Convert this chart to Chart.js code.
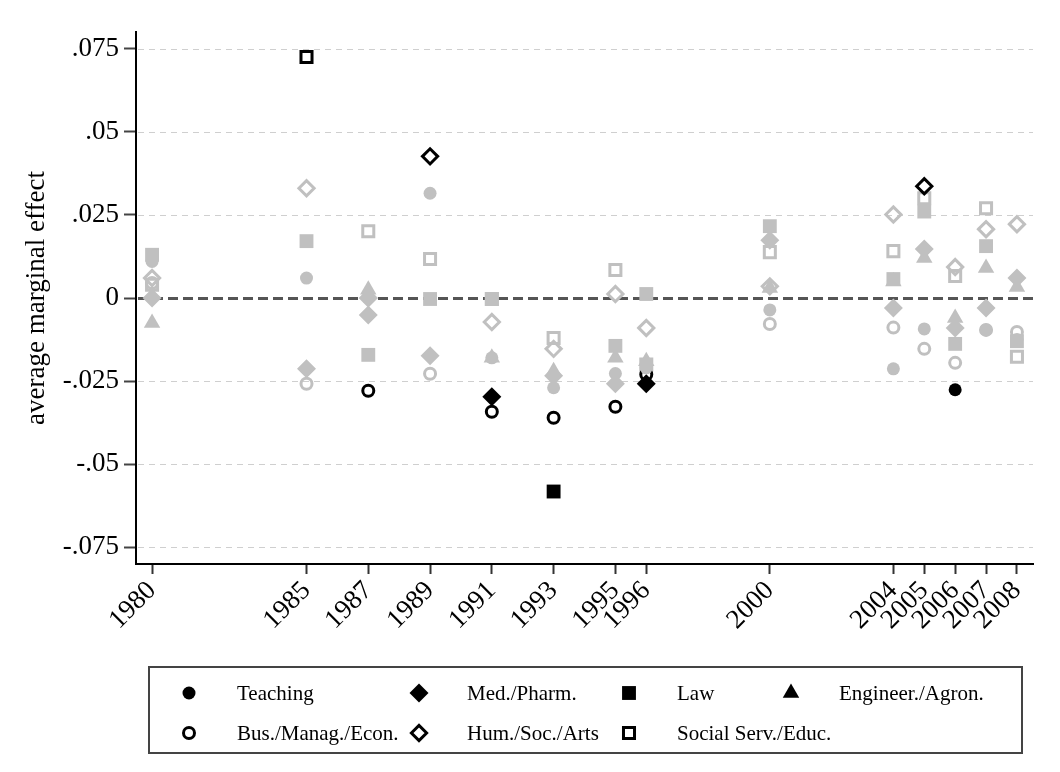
<!DOCTYPE html>
<html>
<head>
<meta charset="utf-8">
<script src="https://cdn.jsdelivr.net/npm/chart.js@4/dist/chart.umd.min.js"></script>
<style>
  body { margin: 0; background: #fff; }
  #wrap { position: relative; width: 1060px; height: 772px; }
  #legend {
    position: absolute; left: 148px; top: 666px; width: 871px; height: 84px;
    border: 2px solid #444; font-family: 'Liberation Serif', serif; font-size: 21px; color: #000;
  }
  .item { position: absolute; height: 24px; line-height: 24px; white-space: nowrap; }
  .item canvas { position: absolute; left: -24px; top: 0; }
</style>
</head>
<body>
<div id="wrap">
  <canvas id="grafico" width="1060" height="772"></canvas>
  <div id="legend"></div>
</div>
<script>
// Años de la encuesta (eje x)
const years = [1980, 1985, 1987, 1989, 1991, 1993, 1995, 1996, 2000, 2004, 2005, 2006, 2007, 2008]
const yearLabels = years.map(String)

// Ticks del eje y
const yTicks = [-0.075, -0.05, -0.025, 0, 0.025, 0.05, 0.075]
const yTickLabels = ['-.075', '-.05', '-.025', '0', '.025', '.05', '.075']

// Efectos marginales por área (null = no visible)
const teaching = [0.011, 0.006, 0.0, 0.0315, -0.018, -0.027, -0.0227, -0.021, -0.0036, -0.0213, -0.0093, -0.0276, -0.0096, -0.0125]
const medPharm = [0.0, -0.0213, -0.0051, -0.0174, -0.0297, -0.0234, -0.0258, -0.0258, 0.0174, -0.003, 0.0147, -0.009, -0.003, 0.006]
const law = [0.013, 0.0171, -0.0171, -0.0003, -0.0003, -0.0582, -0.0144, 0.0012, 0.0216, 0.0057, 0.026, -0.0138, 0.0156, -0.013]
const engineer = [-0.0075, null, 0.0025, null, -0.018, -0.022, -0.018, -0.019, 0.003, 0.005, 0.012, -0.006, 0.009, 0.0033]
const business = [0.0045, -0.0258, -0.0279, -0.0228, -0.0342, -0.036, -0.0327, -0.023, -0.0078, -0.0089, -0.0153, -0.0195, -0.0096, -0.0102]
const humanities = [0.006, 0.033, 0.0, 0.0426, -0.0072, -0.0153, 0.0012, -0.009, 0.0035, 0.0251, 0.0336, 0.0093, 0.0207, 0.0222]
const socialServ = [0.004, 0.0725, 0.0201, 0.0117, -0.0003, -0.012, 0.0084, -0.02, 0.0138, 0.0141, 0.03, 0.0066, 0.027, -0.0177]

// Significativos (1 = negro)
const sigTeaching = [0, 0, 0, 0, 0, 0, 0, 0, 0, 0, 0, 1, 0, 0]
const sigMedPharm = [0, 0, 0, 0, 1, 0, 0, 1, 0, 0, 0, 0, 0, 0]
const sigLaw = [0, 0, 0, 0, 0, 1, 0, 0, 0, 0, 0, 0, 0, 0]
const sigEngineer = [0, 0, 0, 0, 0, 0, 0, 0, 0, 0, 0, 0, 0, 0]
const sigBusiness = [0, 0, 1, 0, 1, 1, 1, 1, 0, 0, 0, 0, 0, 0]
const sigHumanities = [0, 0, 0, 1, 0, 0, 0, 0, 0, 0, 1, 0, 0, 0]
const sigSocialServ = [0, 1, 0, 0, 0, 0, 0, 0, 0, 0, 0, 0, 0, 0]

const GRIS = '#c0c0c0'
const NEGRO = '#000000'
const SERIF = "'Liberation Serif', 'Times New Roman', serif"

const series = [
  { label: 'Teaching', values: teaching, sig: sigTeaching, style: 'circle', radius: 6.5, hollow: false },
  { label: 'Med./Pharm.', values: medPharm, sig: sigMedPharm, style: 'rectRot', radius: 9.5, hollow: false },
  { label: 'Law', values: law, sig: sigLaw, style: 'rect', radius: 9.8, hollow: false },
  { label: 'Engineer./Agron.', values: engineer, sig: sigEngineer, style: 'triangle', radius: 9.5, hollow: false },
  { label: 'Bus./Manag./Econ.', values: business, sig: sigBusiness, style: 'circle', radius: 5.5, hollow: true },
  { label: 'Hum./Soc./Arts', values: humanities, sig: sigHumanities, style: 'rectRot', radius: 7.6, hollow: true },
  { label: 'Social Serv./Educ.', values: socialServ, sig: sigSocialServ, style: 'rect', radius: 7.8, hollow: true }
]

const datasets = series.map(s => {
  const colores = s.sig.map(f => f ? NEGRO : GRIS)
  return {
    label: s.label,
    data: years.map((yr, i) => ({ x: yr, y: s.values[i] })).filter(p => p.y !== null),
    colores: colores.filter((_, i) => s.values[i] !== null),
    pointStyle: s.style,
    pointRadius: s.radius,
    pointHoverRadius: s.radius,
    pointBorderWidth: s.hollow ? 3 : 0,
    pointBackgroundColor: s.hollow ? 'rgba(0,0,0,0)' : ctx => ctx.dataset.colores[ctx.dataIndex],
    pointBorderColor: ctx => ctx.dataset.colores[ctx.dataIndex],
    showLine: false
  }
})

// Líneas de grilla punteadas y línea de cero
const grilla = {
  id: 'grilla',
  beforeDatasetsDraw(chart) {
    const { ctx, chartArea, scales } = chart
    ctx.save()
    yTicks.forEach(v => {
      const py = Math.round(scales.y.getPixelForValue(v)) + 0.5
      ctx.beginPath()
      if (v === 0) {
        ctx.strokeStyle = '#555'
        ctx.lineWidth = 3
        ctx.setLineDash([10, 5])
      } else {
        ctx.strokeStyle = '#cfcfcf'
        ctx.lineWidth = 1
        ctx.setLineDash([6, 5])
      }
      ctx.moveTo(chartArea.left + 2, py)
      ctx.lineTo(chartArea.right, py)
      ctx.stroke()
    })
    ctx.restore()
  }
}

new Chart(document.getElementById('grafico'), {
  type: 'scatter',
  data: { datasets },
  plugins: [grilla],
  options: {
    responsive: false,
    animation: false,
    devicePixelRatio: 1,
    layout: { padding: { top: 32, right: 27, left: 0, bottom: 0 } },
    plugins: { legend: { display: false }, tooltip: { enabled: false } },
    scales: {
      x: {
        type: 'linear',
        min: 1979.48,
        max: 2008.52,
        afterBuildTicks: scale => { scale.ticks = years.map(v => ({ value: v })) },
        afterFit: scale => { scale.height = 208 },
        grid: { drawOnChartArea: false, drawTicks: true, tickLength: 10, tickColor: '#333', tickWidth: 2 },
        border: { display: true, color: '#000', width: 2 },
        ticks: {
          autoSkip: false,
          maxRotation: 45,
          minRotation: 45,
          padding: 1,
          color: '#000',
          font: { family: SERIF, size: 27 },
          callback: (v, i) => yearLabels[i]
        }
      },
      y: {
        min: -0.08,
        max: 0.08,
        afterBuildTicks: scale => { scale.ticks = yTicks.map(v => ({ value: v })) },
        afterFit: scale => { scale.width = 136 },
        grid: { drawOnChartArea: false, drawTicks: true, tickLength: 12, tickColor: '#444', tickWidth: 2 },
        border: { display: true, color: '#000', width: 2 },
        ticks: {
          padding: 5,
          color: '#000',
          font: { family: SERIF, size: 27 },
          callback: (v, i) => yTickLabels[i]
        },
        title: {
          display: true,
          text: 'average marginal effect',
          color: '#000',
          font: { family: SERIF, size: 27 },
          padding: { top: 21, bottom: 0 }
        }
      }
    }
  }
})

// Leyenda con recuadro
const legend = document.getElementById('legend')
const posiciones = [
  [87, 13], [317, 13], [527, 13], [689, 13],
  [87, 53], [317, 53], [527, 53]
]
series.forEach((s, i) => {
  const div = document.createElement('div')
  div.classList.add('item')
  div.style.left = posiciones[i][0] + 'px'
  div.style.top = posiciones[i][1] + 'px'
  div.textContent = s.label
  const c = document.createElement('canvas')
  c.width = 24
  c.height = 24
  c.style.left = '-60px'
  const g = c.getContext('2d')
  g.fillStyle = s.hollow ? 'rgba(0,0,0,0)' : NEGRO
  g.strokeStyle = NEGRO
  g.lineWidth = s.hollow ? 3 : 0
  Chart.helpers.drawPoint(g, { pointStyle: s.style, radius: s.radius, borderWidth: s.hollow ? 3 : 0, rotation: 0 }, 12, 12)
  div.appendChild(c)
  legend.appendChild(div)
})
</script>
</body>
</html>
